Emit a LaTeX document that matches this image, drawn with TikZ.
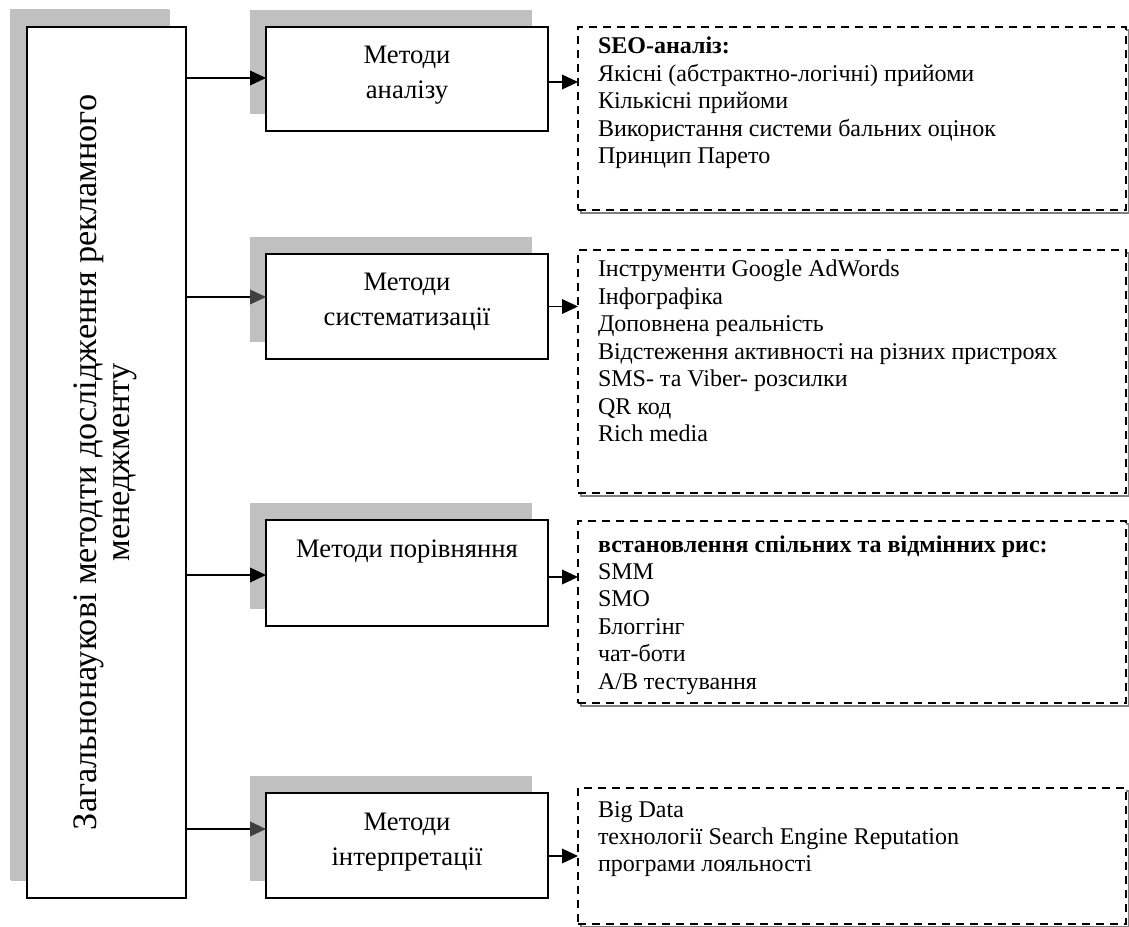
\documentclass[tikz,border=0pt]{standalone}
\usepackage{fontspec}
\usepackage{graphicx}
\setmainfont{Liberation Serif}
\usetikzlibrary{arrows.meta,shadows,backgrounds}
\newlength\pxl
\setlength\pxl{0.75pt}
\definecolor{shgrey}{HTML}{C0C0C0}
\definecolor{dshgrey}{HTML}{808080}
\definecolor{tipgrey}{HTML}{404040}
\newcommand\mfont{\fontsize{20pt}{26.25pt}\selectfont}
\newcommand\dfont{\fontsize{18pt}{20.6pt}\selectfont}
\begin{document}
\begin{tikzpicture}[x=0.75pt,y=-0.75pt,
  solidbox/.style={draw=black, line width=1.1pt, fill=white, rectangle, inner sep=0pt, outer sep=0pt, anchor=north west,
     drop shadow={shadow xshift=-16*\pxl, shadow yshift=17*\pxl, opacity=1, fill=shgrey, draw=none}},
  mainbox/.style={solidbox, drop shadow={shadow xshift=-17*\pxl, shadow yshift=18*\pxl, opacity=1, fill=shgrey, draw=none}},
  dbox/.style={draw=black, line width=1.2pt, dash pattern=on 6pt off 4.5pt, fill=white, rectangle, inner sep=0pt, outer sep=0pt, anchor=north west},
  dshadow/.style={draw=dshgrey, line width=2.2pt},
  arr/.style={draw=black, line width=1.1pt, -{Triangle[length=12pt,width=11pt]}},
  arrg/.style={draw=black, line width=1.1pt, -{Triangle[length=12pt,width=11pt,color=tipgrey]}}
]
\useasboundingbox (0,0) rectangle (1129,927);

% main box
\node[mainbox] (main) at (27,27) {\parbox[c][871\pxl][c]{159\pxl}{\centering\rotatebox{90}{\fontsize{25.7pt}{25pt}\selectfont\begin{tabular}{@{}c@{}}Загальнонаукові методти дослідження рекламного\\менеджменту\end{tabular}}}};

% method boxes
\node[solidbox] (m1) at (266,27) {\parbox[c][104\pxl][t]{282\pxl}{\mfont\centering\rule{0pt}{37\pxl}Методи\\аналізу}};
\node[solidbox] (m2) at (266,254) {\parbox[c][105\pxl][t]{282\pxl}{\mfont\centering\rule{0pt}{37\pxl}Методи\\систематизації}};
\node[solidbox] (m3) at (266,520) {\parbox[c][106\pxl][t]{282\pxl}{\mfont\centering\rule{0pt}{37\pxl}Методи порівняння}};
\node[solidbox] (m4) at (266,793) {\parbox[c][105\pxl][t]{282\pxl}{\mfont\centering\rule{0pt}{37\pxl}Методи\\інтерпретації}};

% dashed boxes
\node[dbox] (d1) at (578,27) {\hspace*{20\pxl}\parbox[c][183\pxl][t]{528\pxl}{\dfont\raggedright\rule{0pt}{27\pxl}\textbf{SEO-аналіз:}\\Якісні (абстрактно-логічні) прийоми\\Кількісні прийоми\\Використання системи бальних оцінок\\Принцип Парето}};
\node[dbox] (d2) at (578,250) {\hspace*{20\pxl}\parbox[c][243\pxl][t]{528\pxl}{\dfont\raggedright\rule{0pt}{27\pxl}Інструменти Google AdWords\\Інфографіка\\Доповнена реальність\\Відстеження активності на різних пристроях\\SMS- та Viber- розсилки\\QR код\\Rich media}};
\node[dbox] (d3) at (578,521) {\hspace*{20\pxl}\parbox[c][182\pxl][t]{528\pxl}{\dfont\raggedright\rule{0pt}{31\pxl}\textbf{встановлення спільних та відмінних рис:}\\SMM\\SMO\\Блоггінг\\чат-боти\\А/В тестування}};
\node[dbox] (d4) at (578,788) {\hspace*{20\pxl}\parbox[c][136\pxl][t]{528\pxl}{\dfont\raggedright\rule{0pt}{29\pxl}Big Data\\технології Search Engine Reputation\\програми лояльності}};

\begin{scope}[on background layer]
  \foreach \d in {d1,d2,d3,d4}{
    \draw[dshadow] ([shift={(3,3)}]\d.north west) rectangle ([shift={(3,3)}]\d.south east);
  }
\end{scope}

% connectors main -> methods
\path (main.east |- m1.west) ++(0,-1) coordinate (s1);
\path (main.east |- m2.west) ++(0,-9.5) coordinate (s2);
\path (main.east |- m3.west) ++(0,2) coordinate (s3);
\path (main.east |- m4.west) ++(0,-16.5) coordinate (s4);
\draw[arr] (s1) -- (s1 -| m1.west);
\draw[arrg] (s2) -- (s2 -| m2.west);
\draw[arr] (s3) -- (s3 -| m3.west);
\draw[arrg] (s4) -- (s4 -| m4.west);

% connectors methods -> lists
\path (m1.east) ++(0,3) coordinate (t1);
\path (m2.east) ++(0,0) coordinate (t2);
\path (m3.east) ++(0,4) coordinate (t3);
\path (m4.east) ++(0,10.5) coordinate (t4);
\draw[arr] (t1) -- (t1 -| d1.west);
\draw[arr] (t2) -- (t2 -| d2.west);
\draw[arr] (t3) -- (t3 -| d3.west);
\draw[arr] (t4) -- (t4 -| d4.west);
\end{tikzpicture}
\end{document}
